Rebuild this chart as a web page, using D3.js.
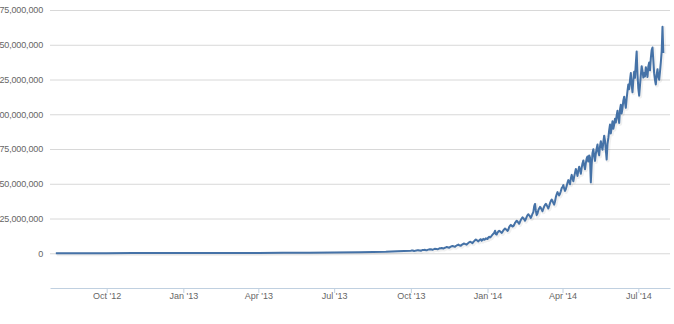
<!DOCTYPE html>
<html>
<head>
<meta charset="utf-8">
<script src="https://cdn.jsdelivr.net/npm/d3@7"></script>
<style>
  body { margin: 0; background: #fff; }
  #chart text { font-family: "Liberation Sans", Arial, sans-serif; font-size: 9px; fill: #666; }
  #chart .yaxis text { letter-spacing: -0.15px; }
</style>
</head>
<body>
<div id="chart"><svg width="674" height="324"></svg></div>
<script>

// DATA (values in millions)

// flat part, roughly one reading a month
var flatDates = ["2012-08-01","2012-09-01","2012-10-01","2012-11-01","2012-12-01","2013-01-01","2013-02-01",
                 "2013-03-01","2013-04-01","2013-05-01","2013-06-01","2013-07-01","2013-08-01","2013-09-01","2013-09-15"];
var flatValues = [0.05,0.06,0.08,0.1,0.12,0.14,0.17,0.2,0.25,0.3,0.4,0.5,0.7,1.0,1.4];

// daily readings, one array per month
var oct13 = [1.8,1.9,2.0,1.8,1.6,1.7,1.9, 2.0,2.1,2.2,2.0,1.9,1.8,2.1, 2.3,2.4,2.3,2.5,2.2,2.1,2.4, 2.6,2.8,2.7,2.9,2.6,2.5,2.8, 3.0,3.2,3.1];
var nov13 = [3.0,2.9,3.1, 3.4,3.6,3.5,3.8,3.6,3.4,3.7, 4.0,4.2,4.5,4.3,4.1,3.9,4.4, 4.8,5.0,5.3,5.0,4.8,4.6,5.2, 5.6,5.9,6.2,5.8,5.6,5.4];
var dec13 = [6.0, 6.4,6.8,7.0,6.7,6.5,6.2,6.9, 7.4,7.9,8.3,8.0,7.7,7.3,8.1, 8.7,9.3,9.9,9.4,9.0,8.5,9.2, 9.8,10.1,9.0,9.6,10.3,9.7,10.0, 10.8,10.4];
var jan14 = [10.2,11.4,11.9,11.3,11.8, 12.6,13.4,14.0,14.6,16.2,13.8,13.5, 14.8,15.6,16.1,15.7,15.3,14.6,15.4, 16.4,17.2,17.8,17.3,16.8,16.0,17.0, 18.8,19.8,20.4,19.8,19.2];
var feb14 = [19.5,20.4, 21.8,22.6,23.4,22.8,22.0,21.2,22.6, 24.0,25.0,25.8,25.2,24.4,23.4,24.6, 26.2,27.4,28.0,27.3,26.4,25.4,26.8, 28.4,29.6,33.8,35.5,30.6];
var mar14 = [27.4,28.6, 31.0,32.2,33.4,32.6,31.4,30.2,32.0, 33.6,34.8,35.6,34.6,33.4,32.2,34.0, 36.0,37.6,38.6,37.6,36.2,35.0,37.2, 40.4,42.4,44.0,42.6,41.6,42.8,44.6, 46.8];
var apr14 = [47.6,49.0,46.6,44.8,46.2,48.4,50.8, 52.6,51.4,49.6,53.8,56.4,54.0,51.8, 55.0,57.8,60.6,58.4,55.6,59.4,62.2, 60.0,57.2,61.4,64.6,66.8,63.2,60.4, 64.8,68.2];
var may14 = [69.6,66.0,70.4,68.8, 51.0,63.6,72.0,74.8,70.2,66.4,71.6, 75.4,78.2,73.0,70.4,76.8,80.6,77.2, 74.4,79.8,84.6,81.0,74.2,67.4,78.6, 83.0,88.4,92.6,86.2,90.4,95.0];
var jun14 = [89.6, 92.4,96.8,94.0,99.2,102.6,97.4,93.8, 103.4,106.8,100.6,104.2,109.8,112.6,108.2, 104.6,111.4,116.8,121.4,118.0,124.6,129.6, 121.0,115.8,124.4,130.6,126.2,136.8,145.2, 128.4];
var jul14 = [118.6,113.4,120.8,128.2,134.6,131.0,126.4, 129.6,127.2,133.8,130.6,126.8,134.4,137.2, 131.6,140.4,146.2,148.0,138.8,129.4,124.6, 121.4,128.6,132.4,127.0,124.8,130.6,137.4, 145.0,163.0,144.0];

var months = [["2013-10-01", oct13], ["2013-11-01", nov13], ["2013-12-01", dec13], ["2014-01-01", jan14],
              ["2014-02-01", feb14], ["2014-03-01", mar14], ["2014-04-01", apr14], ["2014-05-01", may14],
              ["2014-06-01", jun14], ["2014-07-01", jul14]];

var yTicks = [0, 25e6, 50e6, 75e6, 100e6, 125e6, 150e6, 175e6];
var xTickLabels = ["Oct '12", "Jan '13", "Apr '13", "Jul '13", "Oct '13", "Jan '14", "Apr '14", "Jul '14"];

// BUILD SERIES

var parse = d3.timeParse("%Y-%m-%d");
var series = [];
flatDates.forEach(function(d, i) {
    series.push({ date: parse(d), value: flatValues[i] * 1e6 });
});
months.forEach(function(m) {
    var start = parse(m[0]);
    m[1].forEach(function(v, i) {
        series.push({ date: d3.timeDay.offset(start, i), value: v * 1e6 });
    });
});

// CHART

var plotLeft = 50, plotRight = 670, plotTop = 10, plotBottom = 288;
var svg = d3.select("#chart svg");

var x = d3.scaleTime()
    .domain([parse("2012-07-25"), parse("2014-08-08")])
    .range([plotLeft, plotRight]);

var y = d3.scaleLinear()
    .domain([-25e6, 175e6])
    .range([plotBottom, plotTop]);

var yAxis = d3.axisLeft(y)
    .tickValues(yTicks)
    .tickSize(-(plotRight - plotLeft))
    .tickPadding(7)
    .tickFormat(d3.format(","));

var gy = svg.append("g")
    .attr("class", "yaxis")
    .attr("transform", "translate(" + plotLeft + ",0)")
    .call(yAxis);
gy.select(".domain").remove();
gy.selectAll(".tick line").attr("stroke", "#d8d8d8");

var xTicks = d3.timeMonth.every(3).range(parse("2012-08-01"), parse("2014-08-01"));

var xAxis = d3.axisBottom(x)
    .tickValues(xTicks)
    .tickSize(5)
    .tickSizeOuter(0)
    .tickPadding(0)
    .tickFormat(function(d, i) { return xTickLabels[i]; });

var gx = svg.append("g")
    .attr("transform", "translate(0," + plotBottom + ")")
    .call(xAxis);
gx.select(".domain").attr("stroke", "#c0d0e0");
gx.selectAll(".tick line").attr("stroke", "#c0d0e0");

var line = d3.line()
    .x(function(d) { return x(d.date); })
    .y(function(d) { return y(d.value); });

// faint shadow like the original
svg.append("path")
    .datum(series)
    .attr("transform", "translate(1,1)")
    .attr("fill", "none")
    .attr("stroke", "rgba(0,0,0,0.06)")
    .attr("stroke-width", 4)
    .attr("stroke-linejoin", "round")
    .attr("d", line);

svg.append("path")
    .datum(series)
    .attr("fill", "none")
    .attr("stroke", "#4572a7")
    .attr("stroke-width", 2)
    .attr("stroke-linejoin", "round")
    .attr("d", line);

</script>
</body>
</html>
